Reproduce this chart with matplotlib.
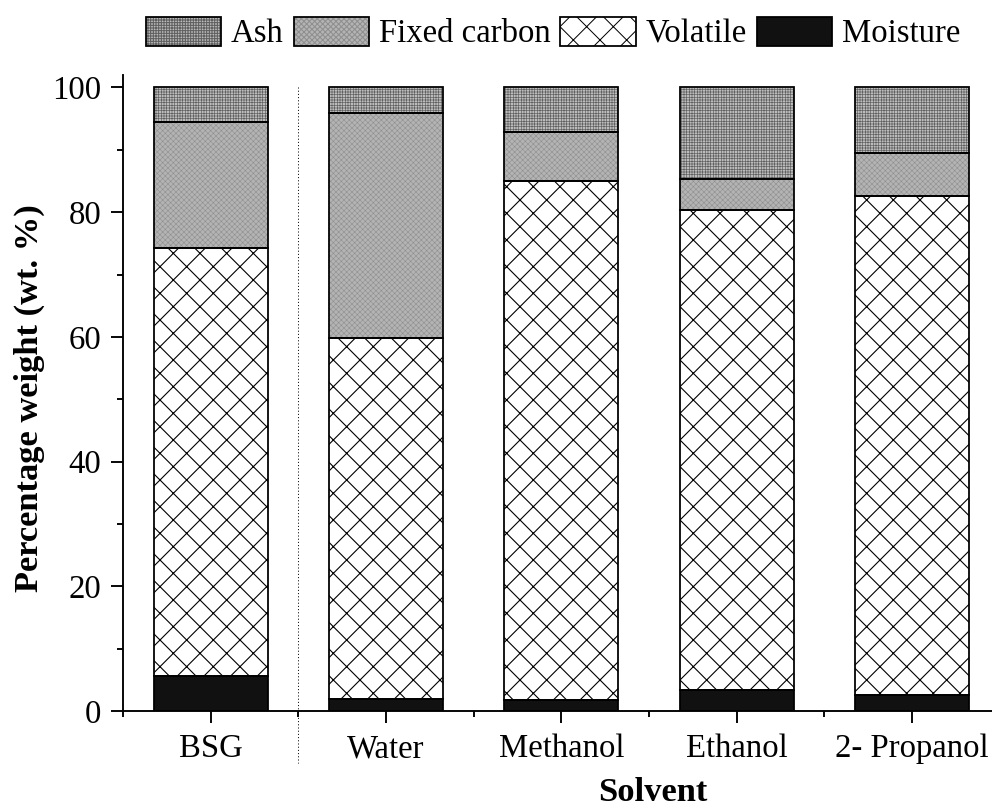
import matplotlib
matplotlib.use("Agg")
import matplotlib.pyplot as plt
from matplotlib.patches import Patch
from matplotlib.legend_handler import HandlerTuple
import numpy as np

# ---- data ----
solvents = ["BSG", "Water", "Methanol", "Ethanol", "2- Propanol"]
moisture = [5.6, 1.9, 1.8, 3.3, 2.5]
volatile = [68.6, 58.0, 83.2, 77.1, 80.1]
fixed_carbon = [20.2, 36.0, 7.8, 4.9, 6.9]
ash = [5.6, 4.1, 7.2, 14.7, 10.5]
series_names = ["Moisture", "Volatile", "Fixed carbon", "Ash"]
yticks = [0, 20, 40, 60, 80, 100]

DPI = 80
W, H = 992, 807
plt.rcParams['font.family'] = ['Liberation Serif', 'DejaVu Serif']
plt.rcParams['hatch.linewidth'] = 0.9

fig = plt.figure(figsize=(W / DPI, H / DPI), dpi=DPI)
ax_left, ax_bottom_px, ax_top_px = 123, 711, 75
ax_right = 999.6
ax = fig.add_axes([ax_left / W, (H - ax_bottom_px) / H,
                   (ax_right - ax_left) / W, (ax_bottom_px - ax_top_px) / H])

x = np.arange(len(solvents))
width = 0.65

styles = {
    "Moisture": dict(face="#111111", hatch=None, hcol="#111111", hlw=0.9),
    "Volatile": dict(face="white", hatch="x", hcol="black", hlw=1.0),
    "Fixed carbon": dict(face="#b4b4b4", hatch="xxxxx", hcol="#8e8e8e", hlw=0.5),
    "Ash": dict(face="#bcbcbc", hatch="+++++", hcol="#606060", hlw=0.6),
}
data = {"Moisture": moisture, "Volatile": volatile,
        "Fixed carbon": fixed_carbon, "Ash": ash}

EDGE_LW = 1.6
bottom = np.zeros(len(solvents))
handles = {}
for name in series_names:
    st = styles[name]
    vals = np.array(data[name])
    with plt.rc_context({'hatch.linewidth': st['hlw']}):
        base = ax.bar(x, vals, width, bottom=bottom, color=st['face'],
                      edgecolor=st['hcol'], hatch=st['hatch'], linewidth=0, zorder=2)
        for p in base:
            try:
                p.set_hatch_linewidth(st['hlw'])
            except Exception:
                pass
    ax.bar(x, vals, width, bottom=bottom, fill=False, edgecolor='black',
           linewidth=EDGE_LW, zorder=3)
    with plt.rc_context({'hatch.linewidth': st['hlw']}):
        h1 = Patch(facecolor=st['face'], edgecolor=st['hcol'], hatch=st['hatch'], linewidth=0)
        try:
            h1.set_hatch_linewidth(st['hlw'])
        except Exception:
            pass
    h2 = Patch(fill=False, edgecolor='black', linewidth=EDGE_LW)
    handles[name] = (h1, h2)
    bottom += vals

# dotted separator between BSG and treated samples
ax.plot([0.5, 0.5], [100, -8.4], linestyle=(0, (1, 2.2)), color='black',
        linewidth=0.9, clip_on=False, zorder=1)

ax.set_xlim(-0.5, 4.5)
ax.set_ylim(0, 102)
ax.set_xticks(x)
ax.set_xticklabels(solvents)
ax.set_xticks(np.arange(-0.5, 4.6, 1.0), minor=True)
ax.set_yticks(yticks)
ax.set_yticks(np.arange(10, 100, 20), minor=True)

for s in ['top', 'right']:
    ax.spines[s].set_visible(False)
for s in ['left', 'bottom']:
    ax.spines[s].set_linewidth(1.7)

ax.tick_params(axis='both', which='major', direction='out', length=10.5, width=1.7,
               labelsize=29.5)
ax.tick_params(axis='both', which='minor', direction='out', length=5.5, width=1.7)
ax.tick_params(axis='x', which='major', pad=10)
ax.tick_params(axis='y', which='major', pad=9)

ax.set_ylabel("Percentage weight (wt. %)", fontsize=31, fontweight='bold', va='center')
ax.yaxis.set_label_coords((29 - ax_left) / (ax_right - ax_left),
                          (ax_bottom_px - 398) / (ax_bottom_px - ax_top_px))
ax.set_xlabel("Solvent", fontsize=31, fontweight='bold', va='baseline')
ax.xaxis.set_label_coords((653 - ax_left) / (ax_right - ax_left),
                          (ax_bottom_px - 801) / (ax_bottom_px - ax_top_px))

leg_order = ["Ash", "Fixed carbon", "Volatile", "Moisture"]
fig.legend([handles[n] for n in leg_order], leg_order,
           handler_map={tuple: HandlerTuple(ndivide=1, pad=0)},
           loc='center', bbox_to_anchor=(553 / W, 1 - 33 / H), ncol=4,
           frameon=False, fontsize=29.5, handlelength=2.3, handleheight=1.0,
           handletextpad=0.3, columnspacing=0.3, borderpad=0.1, borderaxespad=0)

fig.savefig("out.png", dpi=DPI)
